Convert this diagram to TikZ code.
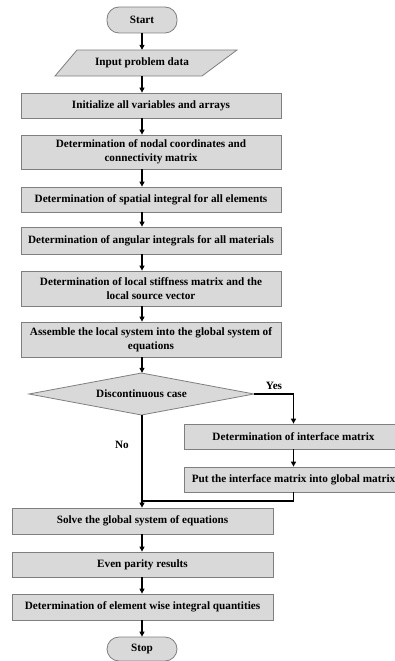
\documentclass[tikz,border=0pt]{standalone}
\usepackage{fontspec}
\setmainfont{Liberation Serif}
\usetikzlibrary{arrows.meta}
\definecolor{boxfill}{HTML}{D9D9D9}
\definecolor{boxline}{HTML}{7F7F7F}
\begin{document}
\begin{tikzpicture}[x=1pt,y=-1pt,
  txt/.style={font=\bfseries\fontsize{11.2}{14}\selectfont,align=center,inner sep=0pt},
  procbox/.style={txt,draw=boxline,fill=boxfill,line width=0.8pt,minimum width=260pt},
  termbox/.style={txt,draw=boxline,fill=boxfill,line width=0.8pt,rounded corners=12pt,minimum width=70pt},
  conn/.style={line width=1.2pt,-{Triangle[length=5pt,width=5pt]}},
  plain/.style={line width=1.2pt},
  lbl/.style={font=\bfseries\fontsize{11.2}{13}\selectfont,inner sep=0pt}]
\useasboundingbox (0,0) rectangle (395,661);
\coordinate (col) at (142,0);
\coordinate (ycol) at (293.5,0);
\node[termbox,minimum height=26pt] (start) at (142,20) {Start};
\draw[draw=boxline,fill=boxfill,line width=0.8pt] (77,50) -- (237,50) -- (202,76) -- (55,76) -- cycle;
\node[txt,minimum height=26pt,minimum width=100pt] (input) at (142,63) {Input problem data};
\node[procbox,minimum height=25pt] (init) at (151,105.5) {Initialize all variables and arrays};
\node[procbox,minimum height=34pt] (nodal) at (151,152) {Determination of nodal coordinates and\\connectivity matrix};
\node[procbox,minimum height=25pt] (spatial) at (151,199.5) {Determination of spatial integral for all elements};
\node[procbox,minimum height=27pt] (angular) at (151,240.5) {Determination of angular integrals for all materials};
\node[procbox,minimum height=35pt] (local) at (151,288.5) {Determination of local stiffness matrix and the\\local source vector};
\node[procbox,minimum height=35pt] (assem) at (151,339.5) {Assemble the local system into the global system of\\equations};
\draw[draw=boxline,fill=boxfill,line width=0.8pt] (29,394) -- (141.5,373) -- (254,394) -- (141.5,415) -- cycle;
\node[txt,minimum width=225pt,minimum height=42pt] (dia) at (141.5,394) {Discontinuous case};
\node[procbox,minimum width=219pt,minimum height=25pt] (ifc) at (293.5,436.5) {Determination of interface matrix};
\node[procbox,minimum width=219pt,minimum height=25pt] (put) at (293.5,479.5) {Put the interface matrix into global matrix};
\node[procbox,minimum width=261pt,minimum height=26pt] (solve) at (142.5,521) {Solve the global system of equations};
\node[procbox,minimum width=261pt,minimum height=25pt] (even) at (142.5,564.5) {Even parity results};
\node[procbox,minimum width=261pt,minimum height=26pt] (elem) at (142.5,607) {Determination of element wise integral quantities};
\node[termbox,minimum height=24pt] (stop) at (142,649) {Stop};
\coordinate (merge) at (142,501);
\node[lbl] (yes) at (274,386) {Yes};
\node[lbl] (no) at (122,445) {No};
\draw[conn] (start.south) -- (col |- input.north);
\draw[conn] (col |- input.south) -- (col |- init.north);
\draw[conn] (col |- init.south) -- (col |- nodal.north);
\draw[conn] (col |- nodal.south) -- (col |- spatial.north);
\draw[conn] (col |- spatial.south) -- (col |- angular.north);
\draw[conn] (col |- angular.south) -- (col |- local.north);
\draw[conn] (col |- local.south) -- (col |- assem.north);
\draw[conn] (col |- assem.south) -- (col |- dia.north);
\draw[conn] (dia.east) -| (ycol |- ifc.north);
\draw[conn] (ycol |- ifc.south) -- (ycol |- put.north);
\draw[plain] (ycol |- put.south) |- (merge);
\draw[conn] (col |- dia.south) -- (col |- solve.north);
\draw[conn] (col |- solve.south) -- (col |- even.north);
\draw[conn] (col |- even.south) -- (col |- elem.north);
\draw[conn] (col |- elem.south) -- (stop.north);
\end{tikzpicture}
\end{document}
